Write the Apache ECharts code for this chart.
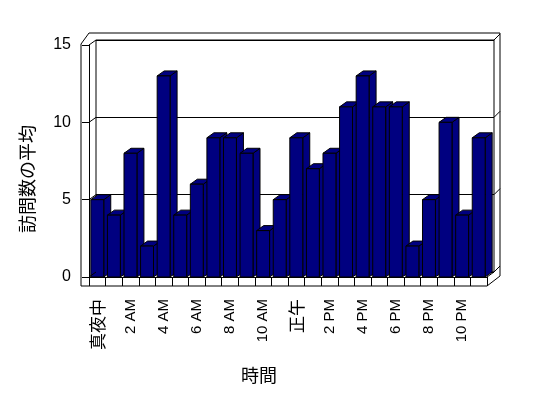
<!DOCTYPE html>
<html>
<head>
<meta charset="utf-8">
<script src="https://cdn.jsdelivr.net/npm/echarts@6/dist/echarts.min.js"></script>
<style>
  html, body { margin: 0; padding: 0; background: #fff; }
  #chart { width: 548px; height: 398px; }
</style>
</head>
<body>
<div id="chart"></div>
<script>
var hours = [
  '真夜中', '1 AM', '2 AM', '3 AM', '4 AM', '5 AM', '6 AM', '7 AM',
  '8 AM', '9 AM', '10 AM', '11 AM', '正午', '1 PM', '2 PM', '3 PM',
  '4 PM', '5 PM', '6 PM', '7 PM', '8 PM', '9 PM', '10 PM', '11 PM'
]
var visits = [5, 4, 8, 2, 13, 4, 6, 9, 9, 8, 3, 5, 9, 7, 8, 11, 13, 11, 11, 2, 5, 10, 4, 9]
var yTicks = [0, 5, 10, 15]

// front plane of the box, back wall is shifted by DX/DY
var GL = 89, GT = 45, GW = 398, GH = 232
var DX = 7, DY = 5
var FONT = "'Liberation Sans', 'Noto Sans CJK JP', sans-serif"
var NAVY = '#000080'

var chart = echarts.init(document.getElementById('chart'))

function frameLines() {
  var items = []
  var bottom = GT + GH
  var right = GL + GW
  var line = function(x1, y1, x2, y2) {
    items.push({
      type: 'line',
      silent: true,
      z: 10,
      shape: { x1: x1, y1: y1, x2: x2, y2: y2 },
      style: { stroke: '#000', lineWidth: 1 }
    })
  }
  // connectors from front axis to the back wall, and right edge ticks
  yTicks.forEach(function(t) {
    var y = bottom - GH * t / 15
    line(GL, y, GL + DX, y - DY)
    line(right + DX, y - DY, right + DX + 6, y - DY - 6)
  })
  items.push({
    type: 'polyline',
    silent: true,
    z: 10,
    shape: {
      points: [[81, bottom + 9], [81, GT - 1], [89, GT - 12], [right + DX + 6, GT - 12],
        [right + DX + 6, bottom - 1], [right, bottom + 9]]
    },
    style: { stroke: '#000', fill: null, lineWidth: 1 }
  })
  line(81, bottom + 9, right, bottom + 9)
  line(right, bottom, right + DX, bottom - DY)
  // axis titles
  items.push({
    type: 'text',
    silent: true,
    x: 259, y: 375,
    style: {
      text: '時間', font: "18px 'Noto Sans CJK JP'", fill: '#000',
      align: 'center', verticalAlign: 'middle'
    }
  })
  items.push({
    type: 'text',
    silent: true,
    x: 27, y: 179,
    rotation: Math.PI / 2,
    style: {
      text: '訪問数の平均', font: "18px 'Noto Sans CJK JP'", fill: '#000',
      align: 'center', verticalAlign: 'middle'
    }
  })
  return items
}

chart.setOption({
  backgroundColor: '#fff',
  animation: false,
  grid: [
    { left: GL, top: GT, width: GW, height: GH },
    {
      left: GL + DX, top: GT - DY, width: GW, height: GH,
      show: true, borderColor: '#000', borderWidth: 1, backgroundColor: '#fff'
    }
  ],
  xAxis: [
    {
      type: 'category',
      gridIndex: 0,
      data: hours,
      axisLine: { lineStyle: { color: '#000', width: 1 } },
      axisTick: { show: true, interval: 0, length: 9, lineStyle: { color: '#000' } },
      axisLabel: {
        interval: 1,
        rotate: 90,
        margin: 22,
        color: '#000',
        fontSize: 15,
        fontFamily: FONT,
        formatter: function(v) {
          return /[^\x00-\x7f]/.test(v) ? '{j|' + v + '}' : v
        },
        rich: { j: { fontSize: 17, fontFamily: "'Noto Sans CJK JP'", color: '#000' } }
      },
      z: 5
    },
    {
      type: 'category',
      gridIndex: 1,
      data: hours,
      show: false
    }
  ],
  yAxis: [
    {
      type: 'value',
      gridIndex: 0,
      min: 0,
      max: 15,
      interval: 5,
      axisLine: { show: true, lineStyle: { color: '#000', width: 1 } },
      axisTick: { show: true, length: 7, lineStyle: { color: '#000' } },
      axisLabel: { color: '#000', fontSize: 16, fontFamily: FONT, margin: 18 },
      splitLine: { show: false },
      z: 5
    },
    {
      type: 'value',
      gridIndex: 1,
      min: 0,
      max: 15,
      interval: 5,
      axisLine: { show: false },
      axisTick: { show: false },
      axisLabel: { show: false },
      splitLine: { show: true, lineStyle: { color: '#000', width: 1 } }
    }
  ],
  series: [
    {
      type: 'custom',
      xAxisIndex: 0,
      yAxisIndex: 0,
      data: visits.map(function(v, i) { return [i, v] }),
      renderItem: function(params, api) {
        var i = api.value(0)
        var v = api.value(1)
        var top = api.coord([i, v])
        var base = api.coord([i, 0])
        var bw = api.size([1, 0])[0] * 0.78
        var x0 = top[0] - bw / 2
        var x1 = x0 + bw
        var y0 = top[1]
        var y1 = base[1]
        var st = { fill: NAVY, stroke: '#000', lineWidth: 1 }
        return {
          type: 'group',
          children: [
            {
              type: 'polygon',
              shape: { points: [[x1, y0], [x1 + DX, y0 - DY], [x1 + DX, y1 - DY], [x1, y1]] },
              style: st
            },
            {
              type: 'polygon',
              shape: { points: [[x0, y0], [x1, y0], [x1 + DX, y0 - DY], [x0 + DX, y0 - DY]] },
              style: st
            },
            {
              type: 'rect',
              shape: { x: x0, y: y0, width: bw, height: y1 - y0 },
              style: st
            }
          ]
        }
      }
    }
  ],
  graphic: frameLines()
})
</script>
</body>
</html>
